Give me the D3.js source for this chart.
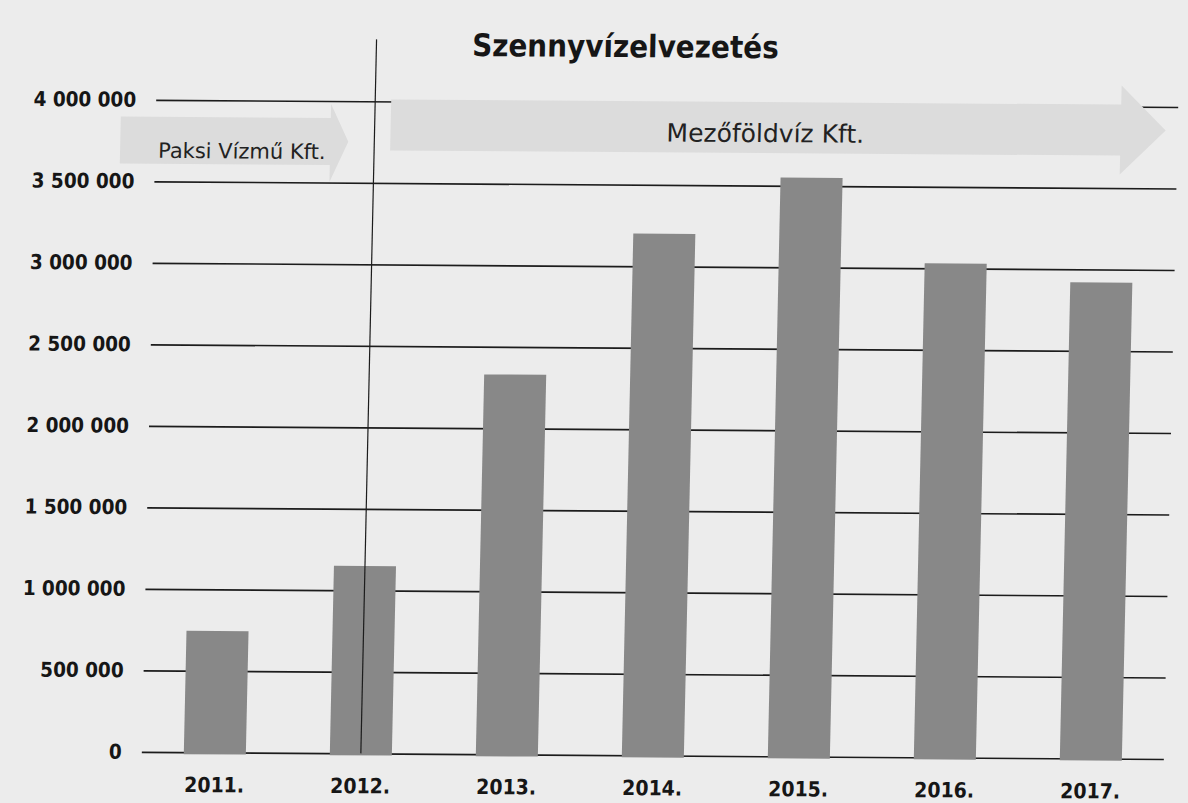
<!DOCTYPE html>
<html>
<head>
<meta charset="utf-8">
<script src="https://cdn.jsdelivr.net/npm/d3@7"></script>
<style>
  html, body { margin: 0; padding: 0; background: #ececec; }
  svg { display: block; }
</style>
</head>
<body>
<svg id="chart" width="1188" height="803"></svg>
<script>
// ---- data ----
const categories = ["2011.", "2012.", "2013.", "2014.", "2015.", "2016.", "2017."];
const values = [745000, 1150000, 2330000, 3200000, 3550000, 3030000, 2920000];
const yTickValues = [0, 500000, 1000000, 1500000, 2000000, 2500000, 3000000, 3500000, 4000000];
const yTickLabels = ["0", "500 000", "1 000 000", "1 500 000", "2 000 000", "2 500 000", "3 000 000", "3 500 000", "4 000 000"];
const title = "Szennyvízelvezetés";
const operatorNames = ["Paksi Vízmű Kft.", "Mezőföldvíz Kft."];
const operatorChangeAt = "2012.";

// ---- layout ----
const W = 1188, H = 803;
const plot = { left: 149, right: 1171, top: 103, bottom: 755 };
const fontBold = "'DejaVu Sans Condensed', 'DejaVu Sans', sans-serif";
const fontText = "'DejaVu Sans', sans-serif";

const svg = d3.select("#chart");
svg.append("rect").attr("width", W).attr("height", H).attr("fill", "#ececec");

// the scanned page is slightly skewed
const a = -0.022, b = 0.007, cx = 600, cy = 430;
const g = svg.append("g")
  .attr("transform", `matrix(1,${b},${a},1,${-a * cy},${-b * cx})`);

const x = d3.scaleBand().domain(categories).range([plot.left, plot.right]).paddingInner(0.575).paddingOuter(0.2875);
const y = d3.scaleLinear().domain([0, 4000000]).range([plot.bottom, plot.top]);

// gridlines + y labels
const yAxis = d3.axisLeft(y)
  .tickValues(yTickValues)
  .tickFormat((d, i) => yTickLabels[i])
  .tickSize(-(plot.right - plot.left))
  .tickPadding(20);
const yg = g.append("g").attr("transform", `translate(${plot.left},0)`).call(yAxis);
yg.select(".domain").remove();
yg.selectAll(".tick line").attr("stroke", "#1c1c1c").attr("stroke-width", 1.6);
yg.selectAll(".tick text")
  .attr("fill", "#161616")
  .style("font-family", fontBold)
  .style("font-weight", "bold")
  .style("font-size", "20.5px");

// operator arrows
function arrowPath(x0, x1, xTip, yb0, yb1, yh0, yh1) {
  const ym = (yb0 + yb1) / 2;
  return `M${x0},${yb0}L${x1},${yb0}L${x1},${yh0}L${xTip},${ym}L${x1},${yh1}L${x1},${yb1}L${x0},${yb1}Z`;
}
const arrows = g.append("g");
arrows.append("path")
  .attr("d", arrowPath(114, 324, 342, 120, 167, 106, 184))
  .attr("fill", "#dcdcdc");
arrows.append("path")
  .attr("d", arrowPath(384, 1114, 1159, 101, 152, 82, 171))
  .attr("fill", "#dcdcdc");

// bars
g.append("g").selectAll("rect")
  .data(values)
  .join("rect")
  .attr("x", (d, i) => x(categories[i]))
  .attr("width", x.bandwidth())
  .attr("y", d => y(d))
  .attr("height", d => y(0) - y(d) + 2)
  .attr("fill", "#888888");

// vertical divider at operator change
const vx = x(operatorChangeAt) + x.bandwidth() / 2;
g.append("line")
  .attr("x1", vx).attr("x2", vx)
  .attr("y1", 41).attr("y2", y(0))
  .attr("stroke", "#1c1c1c").attr("stroke-width", 1.2);

// x labels
const xAxis = d3.axisBottom(x).tickSize(0).tickPadding(25);
const xg = g.append("g").attr("transform", `translate(0,${plot.bottom})`).call(xAxis);
xg.select(".domain").remove();
xg.selectAll(".tick text")
  .attr("fill", "#161616")
  .style("font-family", fontBold)
  .style("font-weight", "bold")
  .style("font-size", "21px");

// title
g.append("text")
  .attr("x", 617).attr("y", 57)
  .attr("text-anchor", "middle")
  .attr("fill", "#161616")
  .style("font-family", fontBold)
  .style("font-weight", "bold")
  .style("font-size", "31px")
  .text(title);

// operator labels
g.append("text")
  .attr("x", 152).attr("y", 161)
  .attr("fill", "#222")
  .style("font-family", fontText)
  .style("font-size", "21px")
  .text(operatorNames[0]);
g.append("text")
  .attr("x", 660).attr("y", 141)
  .attr("fill", "#222")
  .style("font-family", fontText)
  .style("font-size", "25px")
  .text(operatorNames[1]);
</script>
</body>
</html>
